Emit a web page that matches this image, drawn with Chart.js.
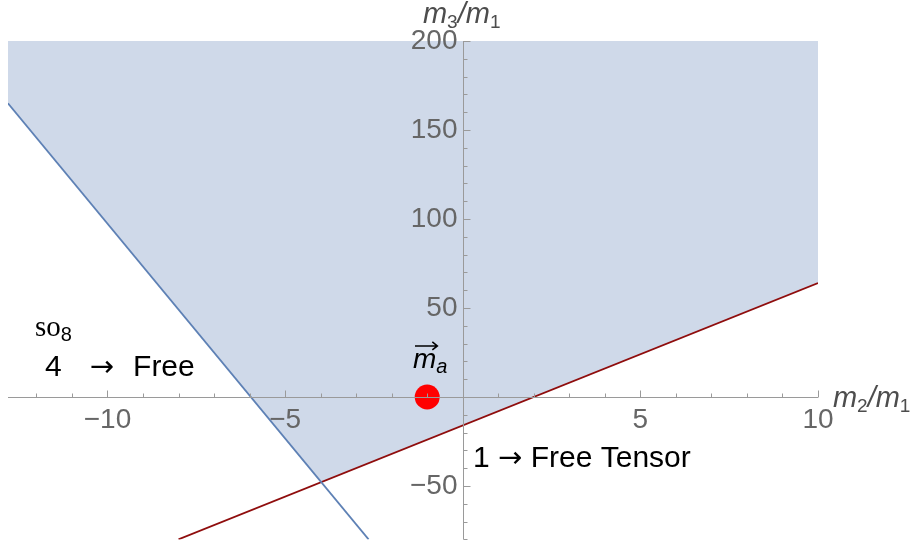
<!DOCTYPE html>
<html lang="en">
<head>
<meta charset="UTF-8">
<title>Region plot</title>
<script src="https://cdn.jsdelivr.net/npm/chart.js"></script>
<style>
    html, body { margin: 0; padding: 0; background: #fff; }
</style>
</head>
<body>
<canvas id="regionChart" width="913" height="544"></canvas>

<script>
    // plot ranges and tick labels
    const xRange = [-12.8, 10];
    const yRange = [-80, 200];
    const xMajorTicks = [-10, -5, 5, 10];
    const yMajorTicks = [-50, 50, 100, 150, 200];

    // boundary lines and shaded region (m2/m1, m3/m1)
    const blueLine = [{ x: -12.8, y: 165 }, { x: -2.65, y: -80 }];
    const redLine = [{ x: -8, y: -80 }, { x: 10, y: 64 }];
    const regionEdge = [
        { x: -12.8, y: 165 }, { x: -12.8, y: 200 }, { x: 10, y: 200 },
        { x: 10, y: 64 }, { x: -4, y: -48 }, { x: -12.8, y: 165 }
    ];
    const pointA = [{ x: -1, y: 0 }];

    const sans = '"Liberation Sans", Arial, sans-serif';
    const serif = '"Liberation Serif", "Times New Roman", serif';
    const arrowFont = '29px "DejaVu Sans", sans-serif';

    // text labels, placed in data coordinates (left edge, baseline)
    const labels = [
        { x: -12.04, y: 34.3, color: '#000', parts: [
            { t: 'so', font: '29px ' + serif },
            { t: '8', font: '20px ' + sans, dy: 5 }] },
        { x: -11.76, y: 11.8, color: '#000', parts: [{ t: '4', font: '30px ' + sans }] },
        { x: -10.5, y: 11.8, color: '#000', parts: [{ t: '→', font: arrowFont }] },
        { x: -9.28, y: 11.8, color: '#000', parts: [{ t: 'Free', font: '30px ' + sans }] },
        { x: 0.29, y: -39.3, color: '#000', parts: [
            { t: '1 ', font: '30px ' + sans },
            { t: '→', font: arrowFont },
            { t: ' Free Tensor', font: '30px ' + sans }] },
        { x: -1.4, y: 16.3, color: '#000', arrow: true, parts: [
            { t: 'm', font: 'italic 28px ' + sans },
            { t: 'a', font: 'italic 20px ' + sans, dy: 5 }] },
        { x: -1.12, y: 210, color: '#4d4d4d', parts: [
            { t: 'm', font: 'italic 29px ' + sans },
            { t: '3', font: '19px ' + sans, dy: 5 },
            { t: '/', font: 'italic 29px ' + sans },
            { t: 'm', font: 'italic 29px ' + sans },
            { t: '1', font: '19px ' + sans, dy: 5 }] },
        { x: 10.42, y: -5.6, color: '#4d4d4d', parts: [
            { t: 'm', font: 'italic 29px ' + sans },
            { t: '2', font: '19px ' + sans, dy: 5 },
            { t: '/', font: 'italic 29px ' + sans },
            { t: 'm', font: 'italic 29px ' + sans },
            { t: '1', font: '19px ' + sans, dy: 5 }] }
    ];

    function fmt(v) {
        return v < 0 ? '\u2212' + Math.abs(v) : String(v);
    }

    // axes crossing at the origin, Mathematica style
    const crossAxes = {
        id: 'crossAxes',
        afterDatasetsDraw(chart) {
            const { ctx, chartArea: area, scales: { x, y } } = chart;
            const x0 = Math.round(x.getPixelForValue(0)) + 0.5;
            const y0 = Math.round(y.getPixelForValue(0)) + 0.5;
            ctx.save();
            ctx.strokeStyle = '#9a9a9a';
            ctx.lineWidth = 1;
            ctx.beginPath();
            ctx.moveTo(area.left, y0); ctx.lineTo(area.right, y0);
            ctx.moveTo(x0, area.top); ctx.lineTo(x0, area.bottom);

            for (let v = Math.ceil(xRange[0]); v <= xRange[1]; v++) {
                if (v === 0) continue;
                const px = Math.round(x.getPixelForValue(v)) + 0.5;
                const len = xMajorTicks.includes(v) ? 7 : 4;
                ctx.moveTo(px, y0); ctx.lineTo(px, y0 - len);
            }
            for (let v = yRange[0]; v <= yRange[1]; v += 10) {
                if (v === 0) continue;
                const py = Math.round(y.getPixelForValue(v)) + 0.5;
                const len = yMajorTicks.includes(v) ? 7 : 4;
                ctx.moveTo(x0, py); ctx.lineTo(x0 + len, py);
            }
            ctx.stroke();

            ctx.fillStyle = '#666';
            ctx.font = '28px ' + sans;
            ctx.textAlign = 'center';
            ctx.textBaseline = 'top';
            xMajorTicks.forEach(v => ctx.fillText(fmt(v), x.getPixelForValue(v), y0 + 9));
            ctx.textAlign = 'right';
            ctx.textBaseline = 'middle';
            yMajorTicks.forEach(v => ctx.fillText(fmt(v), x0 - 6, y.getPixelForValue(v)));
            ctx.restore();
        },
        afterDraw(chart) {
            const { ctx, scales: { x, y } } = chart;
            ctx.save();
            ctx.textAlign = 'left';
            ctx.textBaseline = 'alphabetic';
            labels.forEach(lab => {
                let px = x.getPixelForValue(lab.x);
                const py = y.getPixelForValue(lab.y);
                ctx.fillStyle = lab.color;
                lab.parts.forEach((p, i) => {
                    ctx.font = p.font;
                    ctx.fillText(p.t, px, py + (p.dy || 0));
                    const w = ctx.measureText(p.t).width;
                    if (lab.arrow && i === 0) {
                        // vector arrow over the m
                        const ay = py - 22;
                        ctx.strokeStyle = lab.color;
                        ctx.lineWidth = 1.6;
                        ctx.beginPath();
                        ctx.moveTo(px + 2, ay); ctx.lineTo(px + w + 1, ay);
                        ctx.moveTo(px + w - 4, ay - 4); ctx.lineTo(px + w + 1, ay); ctx.lineTo(px + w - 4, ay + 4);
                        ctx.stroke();
                    }
                    px += w;
                });
            });
            ctx.restore();
        }
    };

    const chartCtx = document.getElementById('regionChart').getContext('2d');
    new Chart(chartCtx, {
        type: 'scatter',
        data: {
            datasets: [
                {
                    data: regionEdge,
                    showLine: true,
                    fill: 'shape',
                    backgroundColor: 'rgb(207, 217, 233)',
                    borderColor: 'rgba(0, 0, 0, 0)',
                    borderWidth: 0,
                    pointRadius: 0,
                    order: 2
                },
                {
                    data: blueLine,
                    showLine: true,
                    borderColor: '#5e81b5',
                    borderWidth: 1.7,
                    pointRadius: 0,
                    order: 1
                },
                {
                    data: redLine,
                    showLine: true,
                    borderColor: '#8f0d0d',
                    borderWidth: 1.7,
                    pointRadius: 0,
                    order: 1
                },
                {
                    data: pointA,
                    pointRadius: 12.5,
                    backgroundColor: '#ff0000',
                    borderWidth: 0,
                    order: 0
                }
            ]
        },
        options: {
            responsive: false,
            animation: false,
            layout: { autoPadding: false, padding: { left: 8, right: 95, top: 41, bottom: 4.6 } },
            scales: {
                x: { type: 'linear', min: xRange[0], max: xRange[1], display: false },
                y: { type: 'linear', min: yRange[0], max: yRange[1], display: false }
            },
            plugins: {
                legend: { display: false },
                tooltip: { enabled: false }
            }
        },
        plugins: [crossAxes]
    });
</script>
</body>
</html>
